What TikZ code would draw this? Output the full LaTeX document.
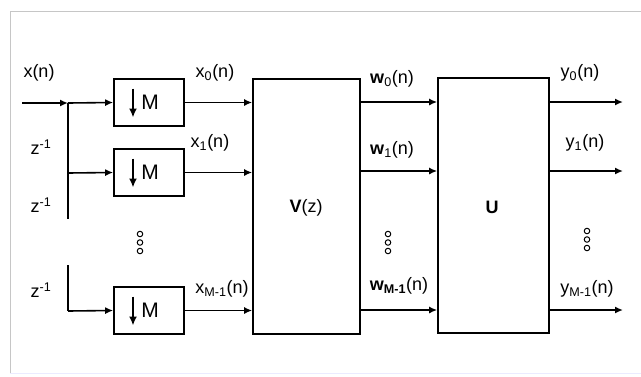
\documentclass[tikz,border=0pt]{standalone}
\usepackage{fontspec}
\setmainfont{Liberation Sans}
\usetikzlibrary{arrows.meta}
\begin{document}
\begin{tikzpicture}[x=1pt,y=-1pt,
  line width=1.6pt,
  arr/.style={-{Latex[length=8pt,width=7pt]}},
  dbox/.style={draw,rectangle,minimum width=70pt,minimum height=47pt,inner sep=0pt},
  bigbox/.style={draw,rectangle,minimum height=255pt,inner sep=0pt},
  lbl/.style={font=\fontsize{18}{20}\selectfont,inner sep=0pt},
  mlbl/.style={font=\fontsize{21}{23}\selectfont,inner sep=0pt},
  dot/.style={draw,circle,line width=1pt,minimum size=5.5pt,inner sep=0pt}]
\useasboundingbox (0,0) rectangle (641,376);
% frame
\draw[gray!45,line width=0.8pt] (10,373) -- (10,11) -- (641,11);
\draw[blue!8,line width=0.8pt] (10,373) -- (641,373);

% downsampler blocks
\foreach \n/\y in {a/102.5,b/172.5,c/310.5}{
  \node[dbox] (m\n) at (149,\y) {};
  \node[mlbl] (mt\n) at (150,\y) {M};
  \draw[-{Latex[length=9pt,width=8pt]},line width=2pt] ([xshift=-16pt,yshift=14pt]m\n.center) -- ([xshift=-16pt,yshift=-15pt]m\n.center);
}

\node[bigbox,minimum width=107pt] (V) at (306.5,206.5) {};
\node[bigbox,minimum width=111pt] (U) at (493.5,205.5) {};
\node[lbl] (Vt) at (306,208) {\textbf{V}(z)};
\node[lbl] (Ut) at (492,207) {\textbf{U}};

% input and delay chain
\coordinate (in) at (22,103);
\coordinate (j) at (68,103);
\coordinate (j1) at (68,173);
\coordinate (e1) at (68,219);
\coordinate (s2) at (68,265);
\coordinate (j2) at (68,311);
\draw[arr] (in) -- (j);
\draw[arr] (j) -- (ma.west);
\draw (j) -- (e1);
\draw[arr] (j1) -- (mb.west);
\draw (s2) -- (j2);
\draw[arr] (j2) -- (mc.west);

% to V
\draw[arr] (ma.east) -- (ma.east -| V.west);
\draw[arr] (mb.east) -- (mb.east -| V.west);
\draw[arr] (mc.east) -- (mc.east -| V.west);

% V to U
\coordinate (w0) at (360,102);
\coordinate (w1) at (360,171);
\coordinate (w2) at (360,310);
\draw[arr] (w0) -- (w0 -| U.west);
\draw[arr] (w1) -- (w1 -| U.west);
\draw[arr] (w2) -- (w2 -| U.west);

% outputs
\coordinate (y0) at (623,102);
\coordinate (y1) at (623,171);
\coordinate (y2) at (623,310);
\draw[arr] (y0 -| U.east) -- (y0);
\draw[arr] (y1 -| U.east) -- (y1);
\draw[arr] (y2 -| U.east) -- (y2);

% labels
\node[lbl] (lx) at (39,73) {x(n)};
\node[lbl] (lz1) at (41,147) {z\textsuperscript{-1}};
\node[lbl] (lz2) at (41,205) {z\textsuperscript{-1}};
\node[lbl] (lz3) at (41,290) {z\textsuperscript{-1}};
\node[lbl] (lx0) at (215,73) {x\textsubscript{0}(n)};
\node[lbl] (lx1) at (210,143) {x\textsubscript{1}(n)};
\node[lbl] (lx2) at (222,289) {x\textsubscript{M-1}(n)};
\node[lbl] (lw0) at (392,79) {\textbf{w}\textsubscript{0}(n)};
\node[lbl] (lw1) at (392,150) {\textbf{w}\textsubscript{1}(n)};
\node[lbl] (lw2) at (399,286) {\textbf{w}\textsubscript{\textbf{M-1}}(n)};
\node[lbl] (ly0) at (580,73) {y\textsubscript{0}(n)};
\node[lbl] (ly1) at (585,143) {y\textsubscript{1}(n)};
\node[lbl] (ly2) at (587,289) {y\textsubscript{M-1}(n)};

% vertical dots
\foreach \x/\a in {140/234,388/234,587/231}{
  \node[dot] at (\x,\a) {};
  \node[dot] at (\x,\a+8.5) {};
  \node[dot] at (\x,\a+17) {};
}
\end{tikzpicture}
\end{document}
